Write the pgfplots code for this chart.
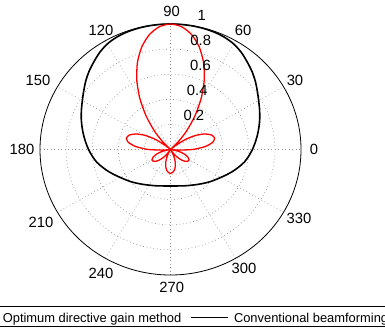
\documentclass[border=0pt]{standalone}
\usepackage{fontspec}
\setmainfont{Liberation Sans}
\usepackage{pgfplots}
\usepackage{pgfplotstable}
\pgfplotsset{compat=1.18}
% Conventional beamforming: angle (deg), normalized gain
\pgfplotstableread{
t r
0 0.628
5 0.652
10 0.677
15 0.702
20 0.728
25 0.753
30 0.780
35 0.812
40 0.848
45 0.882
50 0.913
55 0.945
60 0.970
65 0.985
70 0.993
75 0.997
80 0.999
85 1.000
90 1.000
95 1.000
100 0.999
105 0.997
110 0.993
115 0.985
120 0.970
125 0.945
130 0.913
135 0.882
140 0.848
145 0.812
150 0.780
155 0.753
160 0.728
165 0.702
170 0.677
175 0.652
180 0.628
185 0.602
190 0.575
195 0.541
200 0.508
205 0.475
210 0.445
215 0.420
220 0.398
225 0.377
230 0.358
235 0.342
240 0.328
245 0.317
250 0.308
255 0.300
260 0.295
265 0.292
270 0.291
275 0.292
280 0.295
285 0.300
290 0.308
295 0.317
300 0.328
305 0.342
310 0.358
315 0.377
320 0.398
325 0.420
330 0.445
335 0.475
340 0.508
345 0.541
350 0.575
355 0.602
360 0.628
}\conv
% Optimum directive gain method
\pgfplotstableread{
t r
-90 0.190
-85 0.184
-80 0.168
-75 0.141
-70 0.106
-65 0.064
-60 0.019
-58 0.000
-55 0.030
-50 0.077
-45 0.117
-40 0.146
-35 0.162
-32 0.165
-30 0.164
-25 0.149
-20 0.120
-15 0.080
-10 0.031
-7 0.000
-5 0.052
0 0.170
5 0.266
10 0.328
15 0.350
20 0.336
25 0.293
30 0.226
35 0.140
40 0.042
42 0.000
46 0.085
50 0.190
55 0.325
60 0.470
65 0.612
70 0.740
75 0.848
80 0.930
85 0.982
90 1.000
95 0.982
100 0.930
105 0.848
110 0.740
115 0.612
120 0.470
125 0.325
130 0.190
134 0.085
138 0.000
140 0.042
145 0.140
150 0.226
155 0.293
160 0.336
165 0.350
170 0.328
175 0.266
180 0.170
185 0.052
187 0.000
190 0.031
195 0.080
200 0.120
205 0.149
210 0.164
212 0.165
215 0.162
220 0.146
225 0.117
230 0.077
235 0.030
238 0.000
240 0.019
245 0.064
250 0.106
255 0.141
260 0.168
265 0.184
270 0.190
}\optim
\begin{document}
\begin{tikzpicture}
\path[use as bounding box] (0pt,0pt) rectangle (385pt,330pt);
\clip (0pt,0pt) rectangle (385pt,330pt);
\begin{axis}[
  at={(40pt,55pt)}, anchor=south west,
  scale only axis, width=261pt, height=251pt,
  xmin=-1, xmax=1, ymin=-1, ymax=1,
  hide axis, clip=false,
]
\tikzset{pgrid/.style={gray!85, line width=0.7pt, dash pattern=on 0.7pt off 2.8pt}}
\draw[pgrid] (axis cs:0,0) ellipse [x radius=0.2, y radius=0.2];
\draw[pgrid] (axis cs:0,0) ellipse [x radius=0.4, y radius=0.4];
\draw[pgrid] (axis cs:0,0) ellipse [x radius=0.6, y radius=0.6];
\draw[pgrid] (axis cs:0,0) ellipse [x radius=0.8, y radius=0.8];
\draw[pgrid] (axis cs:-1,0) -- (axis cs:1,0);
\draw[pgrid] (axis cs:0,-1) -- (axis cs:0,1);
\draw[pgrid] (axis cs:-0.866,-0.5) -- (axis cs:0.866,0.5);
\draw[pgrid] (axis cs:-0.5,-0.866) -- (axis cs:0.5,0.866);
\draw[pgrid] (axis cs:0.866,-0.5) -- (axis cs:-0.866,0.5);
\draw[pgrid] (axis cs:0.5,-0.866) -- (axis cs:-0.5,0.866);
\draw[black, line width=0.8pt] (axis cs:0,0) ellipse [x radius=1, y radius=1];

\addplot[black, line width=1.6pt, smooth, tension=0.5] table[x expr={\thisrow{r}*cos(\thisrow{t})}, y expr={\thisrow{r}*sin(\thisrow{t})}] {\conv};
\addplot[red, line width=1.3pt, smooth, tension=0.4] table[x expr={\thisrow{r}*cos(\thisrow{t})}, y expr={\thisrow{r}*sin(\thisrow{t})}] {\optim};

\begin{scope}[every node/.style={font=\fontsize{14.8}{15}\selectfont, inner sep=0pt}]
\node at (axis cs:1.100,0.004) {0};
\node at (axis cs:0.954,0.554) {30};
\node at (axis cs:0.556,0.952) {60};
\node at (axis cs:0.009,1.098) {90};
\node at (axis cs:-0.533,0.952) {120};
\node at (axis cs:-1.015,0.554) {150};
\node at (axis cs:-1.138,0.004) {180};
\node at (axis cs:-0.992,-0.578) {210};
\node at (axis cs:-0.533,-0.984) {240};
\node at (axis cs:0.009,-1.096) {270};
\node at (axis cs:0.563,-0.944) {300};
\node at (axis cs:0.985,-0.546) {330};
\node at (axis cs:0.239,1.066) {1};
\node at (axis cs:0.232,0.866) {0.8};
\node at (axis cs:0.230,0.667) {0.6};
\node at (axis cs:0.205,0.468) {0.4};
\node at (axis cs:0.179,0.269) {0.2};
\end{scope}
\end{axis}
% legend
\draw[line width=0.8pt] (-20pt,3.3pt) rectangle (420pt,23.3pt);
\draw[red, line width=1.3pt] (-40pt,12.7pt) -- (-5pt,12.7pt);
\node[anchor=base west, inner sep=0pt, font=\fontsize{12.9}{13}\selectfont] at (2.6pt,7.3pt) {Optimum directive gain method};
\draw[line width=0.8pt] (190.7pt,12.7pt) -- (227.7pt,12.7pt);
\node[anchor=base west, inner sep=0pt, font=\fontsize{12.9}{13}\selectfont] at (233.8pt,7.3pt) {Conventional beamforming};
\end{tikzpicture}
\end{document}
